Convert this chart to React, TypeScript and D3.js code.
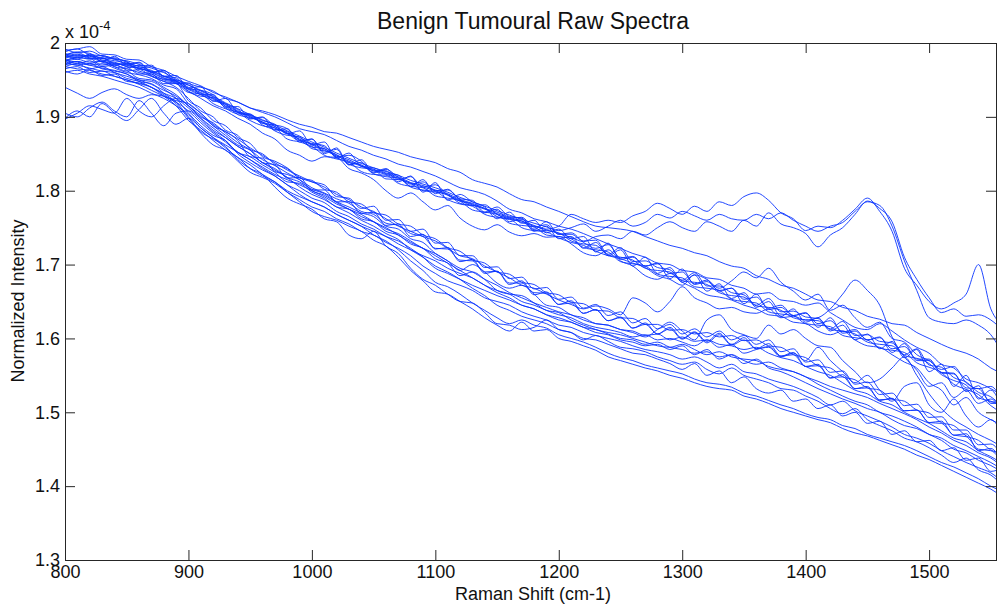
import { useEffect, useRef } from 'react'
import * as d3 from 'd3'

// Raman shift grid shared by all spectra (cm-1)
const shifts = d3.range(800, 1561, 10)

// Normalized intensity, in units of 1e-7, one row per 100 cm-1
const upper1 = [
  1988,1992,1984,1983,1979,1975,1966,1968,1955,1953,
  1938,1936,1930,1914,1906,1904,1891,1889,1884,1868,
  1864,1861,1846,1848,1840,1824,1829,1818,1809,1812,
  1800,1801,1788,1780,1781,1768,1763,1764,1751,1754,
  1741,1743,1730,1722,1727,1709,1711,1698,1701,1688,
  1690,1674,1679,1664,1668,1653,1656,1641,1645,1631,
  1634,1620,1624,1609,1612,1598,1601,1586,1589,1572,
  1572,1553,1552,1533,1532,1514,1514]
const upper2 = [
  1980,1984,1982,1977,1974,1968,1966,1960,1952,1947,
  1937,1930,1922,1917,1903,1899,1893,1881,1875,1873,
  1857,1854,1849,1836,1831,1829,1816,1815,1810,1800,
  1798,1795,1783,1780,1776,1765,1761,1759,1747,1746,
  1743,1732,1728,1726,1713,1710,1706,1695,1692,1690,
  1678,1676,1673,1662,1658,1656,1644,1642,1638,1628,
  1625,1624,1612,1610,1606,1595,1592,1590,1577,1573,
  1566,1551,1543,1537,1520,1515,1508]
const upper3 = [
  1992,1987,1989,1982,1978,1972,1973,1960,1963,1948,
  1943,1935,1927,1918,1910,1898,1899,1887,1878,1868,
  1870,1850,1858,1835,1838,1827,1827,1812,1820,1798,
  1811,1787,1795,1785,1778,1762,1771,1756,1760,1743,
  1748,1735,1738,1717,1729,1707,1710,1698,1702,1681,
  1694,1673,1677,1665,1668,1647,1660,1639,1642,1631,
  1635,1615,1628,1607,1610,1598,1602,1581,1593,1570,
  1570,1554,1553,1528,1536,1512,1512]
const upper4 = [
  1975,1981,1978,1980,1970,1972,1962,1958,1950,1946,
  1933,1931,1918,1911,1906,1895,1888,1885,1870,1866,
  1860,1848,1843,1839,1826,1822,1821,1810,1806,1804,
  1793,1790,1786,1774,1771,1768,1756,1753,1751,1740,
  1738,1735,1723,1720,1717,1704,1701,1698,1687,1684,
  1682,1670,1668,1665,1653,1650,1648,1636,1633,1631,
  1620,1618,1616,1604,1601,1598,1587,1584,1581,1567,
  1561,1554,1538,1531,1524,1509,1498]
const upper5 = [
  1985,1978,1985,1975,1982,1970,1974,1961,1961,1945,
  1946,1930,1930,1913,1914,1897,1900,1882,1884,1866,
  1870,1852,1856,1835,1842,1825,1830,1815,1819,1805,
  1808,1794,1786,1782,1770,1775,1758,1762,1745,1752,
  1735,1738,1722,1730,1712,1720,1698,1710,1688,1696,
  1676,1686,1664,1674,1654,1662,1642,1650,1630,1640,
  1622,1628,1610,1618,1598,1606,1586,1596,1574,1585,
  1555,1565,1535,1550,1518,1530,1500]
const upper6 = [
  1970,1975,1972,1976,1968,1965,1960,1955,1948,1945,
  1935,1925,1915,1908,1898,1890,1878,1870,1855,1848,
  1840,1846,1845,1830,1824,1815,1800,1790,1797,1785,
  1774,1780,1763,1752,1747,1754,1744,1739,1742,1737,
  1738,1728,1716,1712,1720,1705,1698,1685,1680,1688,
  1676,1668,1659,1656,1652,1645,1640,1632,1630,1622,
  1620,1610,1605,1610,1598,1590,1588,1578,1568,1560,
  1540,1530,1510,1520,1500,1490,1482]
const upper7 = [
  1983,1988,1986,1979,1980,1974,1969,1970,1955,1956,
  1939,1941,1921,1925,1906,1902,1895,1890,1877,1881,
  1862,1866,1844,1851,1833,1831,1824,1821,1806,1815,
  1796,1802,1789,1787,1771,1778,1765,1763,1748,1758,
  1741,1741,1732,1733,1714,1723,1704,1705,1696,1693,
  1679,1689,1671,1671,1662,1659,1645,1654,1636,1637,
  1629,1627,1613,1623,1604,1605,1596,1594,1578,1586,
  1564,1561,1547,1541,1527,1521,1506]
const upper8 = [
  1990,1992,1995,1985,1984,1978,1977,1968,1963,1955,
  1948,1942,1933,1927,1920,1912,1906,1900,1892,1884,
  1880,1876,1868,1860,1855,1848,1843,1836,1832,1826,
  1820,1812,1804,1800,1795,1786,1775,1770,1762,1758,
  1752,1748,1742,1735,1728,1722,1715,1710,1702,1700,
  1692,1690,1682,1680,1672,1668,1660,1662,1652,1650,
  1645,1648,1635,1625,1615,1612,1620,1610,1598,1588,
  1580,1565,1560,1545,1540,1532,1522]
const upper9 = [
  1977,1980,1983,1974,1971,1966,1970,1956,1951,1949,
  1934,1928,1926,1912,1904,1903,1889,1883,1880,1869,
  1859,1857,1845,1838,1835,1823,1819,1817,1805,1801,
  1799,1788,1782,1779,1768,1764,1762,1750,1746,1744,
  1736,1730,1726,1718,1712,1708,1702,1696,1685,1680,
  1672,1686,1680,1668,1678,1690,1682,1695,1676,1664,
  1652,1660,1638,1645,1628,1615,1622,1600,1595,1578,
  1570,1558,1562,1540,1532,1535,1512]
const ridge = [
  1982,1985,1979,1980,1972,1970,1965,1962,1955,1950,
  1945,1940,1935,1925,1920,1912,1908,1903,1896,1890,
  1886,1880,1878,1872,1866,1860,1856,1852,1846,1842,
  1838,1830,1825,1815,1810,1805,1796,1788,1785,1778,
  1772,1765,1758,1752,1750,1748,1745,1738,1732,1726,
  1722,1716,1712,1704,1698,1695,1685,1680,1672,1668,
  1660,1652,1650,1642,1638,1630,1626,1620,1618,1608,
  1600,1592,1585,1580,1572,1560,1552]
const topA = [
  1986,1982,1983,1979,1976,1973,1968,1963,1955,1949,
  1940,1933,1925,1917,1908,1901,1893,1887,1878,1872,
  1863,1857,1848,1842,1834,1829,1823,1819,1811,1807,
  1801,1796,1788,1783,1776,1771,1764,1759,1753,1748,
  1752,1768,1762,1757,1760,1757,1766,1772,1783,1776,
  1768,1779,1772,1785,1780,1792,1797,1787,1770,1762,
  1746,1752,1750,1760,1775,1790,1772,1745,1695,1672,
  1650,1640,1648,1660,1700,1640,1618]
const topB = [
  1984,1987,1981,1983,1978,1976,1971,1966,1960,1951,
  1943,1936,1928,1919,1911,1903,1896,1889,1881,1874,
  1866,1859,1851,1844,1837,1831,1826,1821,1814,1809,
  1804,1798,1791,1785,1779,1773,1767,1761,1756,1751,
  1746,1750,1755,1745,1752,1760,1752,1757,1768,1763,
  1772,1766,1760,1768,1762,1760,1768,1762,1770,1760,
  1752,1745,1752,1757,1772,1785,1780,1752,1705,1665,
  1628,1622,1620,1625,1618,1605,1578]
const topC = [
  1979,1983,1980,1975,1973,1971,1966,1961,1953,1948,
  1938,1932,1924,1915,1907,1900,1892,1885,1877,1870,
  1862,1855,1847,1840,1833,1827,1822,1817,1810,1805,
  1800,1794,1787,1781,1775,1769,1763,1757,1752,1747,
  1742,1737,1731,1738,1740,1735,1745,1740,1750,1758,
  1750,1745,1758,1752,1745,1760,1752,1770,1755,1750,
  1742,1724,1740,1750,1768,1786,1776,1758,1710,1680,
  1655,1635,1640,1630,1632,1625,1610]

const middle1 = [
  1975,1978,1974,1975,1968,1962,1964,1955,1948,1940,
  1925,1908,1900,1882,1875,1856,1850,1836,1830,1817,
  1814,1802,1798,1785,1782,1770,1767,1755,1752,1740,
  1735,1723,1718,1706,1702,1690,1687,1676,1673,1662,
  1659,1649,1647,1638,1637,1628,1627,1619,1619,1611,
  1612,1606,1608,1602,1604,1597,1598,1590,1588,1578,
  1574,1563,1560,1548,1544,1533,1530,1518,1515,1503,
  1499,1486,1482,1468,1462,1449,1444]
const middle2 = [
  1982,1980,1979,1970,1972,1968,1958,1958,1945,1945,
  1922,1912,1895,1888,1872,1864,1846,1840,1831,1818,
  1812,1808,1792,1790,1776,1779,1760,1761,1745,1748,
  1729,1730,1712,1712,1696,1697,1681,1683,1667,1669,
  1653,1656,1641,1646,1631,1636,1621,1627,1613,1619,
  1606,1613,1602,1610,1598,1604,1592,1598,1582,1586,
  1568,1571,1554,1556,1538,1541,1524,1526,1509,1511,
  1493,1494,1476,1476,1456,1457,1438]
const middle3 = [
  1972,1975,1970,1972,1966,1960,1957,1952,1943,1938,
  1918,1905,1888,1880,1868,1846,1844,1826,1822,1815,
  1804,1797,1789,1783,1772,1768,1756,1753,1742,1738,
  1722,1721,1706,1705,1690,1691,1675,1675,1662,1661,
  1646,1648,1634,1639,1624,1628,1614,1621,1606,1613,
  1599,1608,1594,1605,1591,1598,1586,1589,1576,1578,
  1562,1563,1547,1548,1532,1533,1517,1518,1502,1503,
  1486,1485,1469,1467,1450,1448,1430]
const middle4 = [
  1978,1972,1976,1968,1970,1963,1952,1950,1940,1930,
  1915,1900,1892,1878,1865,1855,1838,1835,1817,1818,
  1801,1801,1785,1785,1769,1771,1753,1755,1738,1741,
  1721,1723,1704,1707,1688,1691,1673,1678,1659,1663,
  1646,1651,1634,1639,1624,1629,1614,1619,1606,1615,
  1600,1609,1596,1607,1592,1601,1586,1593,1576,1581,
  1562,1565,1546,1551,1532,1535,1516,1519,1502,1503,
  1486,1488,1469,1471,1448,1451,1428]
const middle5 = [
  1897,1905,1915,1910,1905,1925,1908,1900,1915,1925,
  1915,1898,1882,1872,1860,1850,1838,1830,1818,1812,
  1802,1796,1785,1778,1770,1765,1752,1748,1735,1730,
  1715,1705,1692,1700,1690,1675,1668,1672,1660,1645,
  1642,1632,1628,1620,1618,1612,1610,1604,1606,1598,
  1602,1596,1598,1592,1590,1585,1588,1580,1574,1570,
  1562,1555,1550,1540,1530,1525,1515,1510,1500,1492,
  1485,1475,1465,1460,1448,1440,1430]
const middle6 = [
  1905,1900,1912,1920,1908,1900,1922,1905,1888,1905,
  1908,1895,1880,1868,1852,1846,1835,1825,1812,1810,
  1798,1790,1778,1775,1762,1758,1745,1740,1728,1722,
  1708,1702,1685,1690,1680,1665,1660,1658,1648,1638,
  1635,1625,1618,1612,1608,1605,1600,1595,1590,1588,
  1592,1585,1578,1582,1575,1572,1570,1562,1558,1555,
  1548,1538,1530,1522,1515,1510,1500,1495,1488,1480,
  1470,1462,1450,1445,1435,1428,1418]

const lowerBand1 = [
  1968,1972,1965,1968,1960,1955,1950,1948,1938,1925,
  1905,1888,1875,1868,1850,1838,1828,1820,1808,1800,
  1790,1784,1772,1765,1755,1748,1738,1732,1722,1710,
  1695,1688,1680,1672,1665,1658,1652,1645,1640,1632,
  1628,1622,1615,1612,1606,1600,1598,1592,1595,1588,
  1585,1580,1582,1575,1578,1570,1565,1568,1560,1555,
  1548,1542,1535,1530,1525,1520,1512,1505,1498,1490,
  1480,1472,1462,1455,1445,1438,1425]
const lowerBand2 = [
  1965,1968,1960,1962,1955,1950,1945,1940,1930,1918,
  1898,1878,1862,1855,1840,1825,1818,1810,1798,1788,
  1778,1772,1762,1755,1745,1740,1730,1722,1712,1698,
  1688,1678,1672,1665,1655,1650,1645,1636,1630,1625,
  1618,1615,1608,1604,1600,1596,1590,1585,1582,1578,
  1572,1575,1568,1560,1565,1555,1552,1545,1540,1535,
  1528,1520,1510,1515,1502,1495,1488,1480,1470,1465,
  1458,1448,1440,1432,1425,1418,1405]
const lowerBand3 = [
  1975,1970,1972,1965,1962,1958,1948,1945,1932,1920,
  1900,1880,1870,1860,1842,1830,1822,1805,1790,1782,
  1775,1762,1758,1740,1735,1745,1725,1715,1695,1680,
  1672,1660,1650,1648,1635,1620,1618,1612,1615,1625,
  1612,1608,1598,1604,1596,1588,1586,1582,1575,1570,
  1565,1568,1558,1552,1560,1550,1545,1540,1532,1530,
  1522,1515,1505,1498,1505,1490,1482,1475,1465,1460,
  1452,1442,1432,1438,1422,1415,1400]

const bump1 = [
  1940,1932,1925,1933,1938,1930,1925,1930,1928,1922,
  1918,1905,1890,1880,1870,1858,1848,1838,1828,1820,
  1812,1805,1795,1788,1778,1772,1762,1752,1745,1738,
  1732,1722,1712,1708,1698,1690,1682,1672,1668,1660,
  1652,1646,1640,1644,1640,1632,1655,1648,1636,1650,
  1670,1655,1648,1640,1642,1636,1634,1640,1628,1630,
  1625,1628,1640,1660,1679,1665,1645,1602,1575,1557,
  1535,1540,1520,1530,1512,1518,1498]
const bump2 = [
  1898,1908,1900,1918,1905,1895,1910,1925,1905,1890,
  1898,1885,1872,1862,1852,1842,1832,1822,1815,1808,
  1800,1792,1782,1775,1765,1758,1748,1742,1732,1722,
  1715,1705,1695,1690,1680,1672,1662,1655,1648,1642,
  1636,1632,1625,1620,1618,1612,1608,1602,1612,1622,
  1610,1598,1625,1632,1612,1605,1600,1618,1606,1612,
  1600,1590,1588,1570,1555,1540,1545,1560,1575,1550,
  1525,1505,1490,1480,1470,1462,1452]
const bump3 = [
  1962,1958,1964,1956,1958,1948,1946,1940,1928,1915,
  1895,1882,1868,1855,1845,1830,1820,1812,1800,1792,
  1785,1778,1768,1760,1752,1745,1738,1728,1720,1712,
  1705,1695,1688,1682,1672,1665,1660,1650,1645,1638,
  1632,1628,1620,1615,1612,1608,1602,1605,1598,1600,
  1595,1590,1598,1588,1592,1580,1585,1588,1575,1580,
  1570,1588,1570,1555,1540,1550,1530,1515,1535,1540,
  1510,1500,1518,1495,1480,1490,1468]

const lower1 = [
  1960,1963,1958,1955,1950,1945,1940,1932,1925,1915,
  1903,1885,1872,1858,1845,1835,1822,1812,1798,1785,
  1772,1765,1760,1752,1745,1733,1725,1710,1692,1678,
  1663,1660,1650,1640,1628,1618,1610,1622,1610,1612,
  1600,1596,1590,1584,1575,1570,1565,1560,1556,1550,
  1546,1540,1535,1532,1530,1522,1518,1512,1505,1500,
  1495,1490,1486,1478,1472,1468,1462,1456,1450,1442,
  1436,1428,1420,1412,1404,1396,1385]
const lower2 = [
  1968,1965,1963,1958,1955,1950,1944,1936,1928,1920,
  1908,1892,1878,1866,1852,1842,1830,1820,1808,1795,
  1785,1778,1768,1760,1752,1740,1732,1720,1705,1692,
  1676,1670,1660,1648,1638,1628,1620,1625,1618,1614,
  1605,1600,1595,1588,1580,1574,1570,1564,1560,1556,
  1552,1545,1540,1538,1534,1526,1522,1516,1510,1505,
  1498,1493,1490,1482,1478,1470,1465,1460,1455,1448,
  1440,1432,1426,1418,1410,1400,1392]
const lower3 = [
  1972,1970,1966,1962,1960,1952,1948,1940,1932,1925,
  1912,1898,1885,1872,1860,1850,1838,1828,1818,1805,
  1795,1788,1778,1770,1760,1752,1742,1734,1720,1710,
  1698,1690,1680,1668,1658,1645,1638,1630,1625,1620,
  1612,1608,1600,1598,1592,1586,1580,1578,1572,1566,
  1558,1566,1550,1556,1540,1548,1532,1526,1530,1515,
  1518,1505,1510,1495,1500,1485,1488,1470,1475,1460,
  1462,1448,1452,1435,1438,1420,1425]
const lower4 = [
  1976,1974,1970,1966,1963,1958,1950,1944,1936,1928,
  1915,1902,1888,1875,1862,1855,1842,1834,1824,1815,
  1800,1794,1784,1775,1768,1758,1750,1740,1730,1722,
  1712,1702,1692,1682,1672,1662,1655,1645,1640,1632,
  1625,1622,1615,1608,1605,1598,1595,1590,1592,1585,
  1590,1578,1585,1572,1578,1566,1572,1560,1555,1548,
  1540,1532,1525,1518,1512,1505,1500,1490,1482,1478,
  1470,1465,1455,1448,1440,1432,1422]

const spectra = [
  upper1, upper2, upper3, upper4, upper5, upper6, upper7, upper8, upper9,
  ridge, topA, topB, topC,
  middle1, middle2, middle3, middle4, middle5, middle6,
  lowerBand1, lowerBand2, lowerBand3,
  bump1, bump2, bump3,
  lower1, lower2, lower3, lower4
]

const xTicks = [800, 900, 1000, 1100, 1200, 1300, 1400, 1500]
const yTicks = [1.3, 1.4, 1.5, 1.6, 1.7, 1.8, 1.9, 2]

const FONT = '"Liberation Sans", Arial, sans-serif'
const AXIS_COLOR = '#262626'

const App = () => {
  const svgRef = useRef<SVGSVGElement>(null)

  useEffect(() => {
    if (!svgRef.current) return
    const svg = d3.select(svgRef.current)
    svg.selectAll('*').remove()

    const margin = { top: 43, right: 0, bottom: 50, left: 65 }
    const width = 997
    const height = 610

    const x = d3.scaleLinear().domain([800, 1555]).range([margin.left, width - margin.right])
    const y = d3.scaleLinear().domain([1.3, 2]).range([height - margin.bottom, margin.top])

    svg.append('defs').append('clipPath').attr('id', 'plot-clip')
      .append('rect')
      .attr('x', margin.left)
      .attr('y', margin.top)
      .attr('width', width - margin.left - margin.right)
      .attr('height', height - margin.top - margin.bottom)

    const line = d3.line<number>()
      .x((_, i) => x(shifts[i]))
      .y(d => y(d / 1000))
      .curve(d3.curveMonotoneX)

    svg.append('g')
      .attr('clip-path', 'url(#plot-clip)')
      .selectAll('path')
      .data(spectra)
      .enter()
      .append('path')
      .attr('d', d => line(d))
      .attr('fill', 'none')
      .attr('stroke', '#0a34ff')
      .attr('stroke-width', 1)
      .attr('stroke-opacity', 0.9)

    const styleAxis = (g: d3.Selection<SVGGElement, unknown, null, undefined>) => {
      g.selectAll('path').attr('stroke', AXIS_COLOR)
      g.selectAll('line').attr('stroke', AXIS_COLOR)
      g.selectAll('text')
        .attr('fill', '#111')
        .attr('font-family', FONT)
        .attr('font-size', 18)
    }

    // Bottom and left axes carry the labels, ticks point inward
    svg.append('g')
      .attr('transform', `translate(0,${height - margin.bottom})`)
      .call(d3.axisBottom(x).tickValues(xTicks).tickFormat(d3.format('d')).tickSizeInner(-10).tickSizeOuter(0).tickPadding(5))
      .call(styleAxis)

    svg.append('g')
      .attr('transform', `translate(${margin.left},0)`)
      .call(d3.axisLeft(y).tickValues(yTicks).tickFormat(d => String(d)).tickSizeInner(-10).tickSizeOuter(0).tickPadding(5))
      .call(styleAxis)

    // Mirrored ticks on the top and right edges
    svg.append('g')
      .attr('transform', `translate(0,${margin.top})`)
      .call(d3.axisTop(x).tickValues(xTicks).tickFormat(() => '').tickSizeInner(-10).tickSizeOuter(0))
      .call(styleAxis)

    svg.append('g')
      .attr('transform', `translate(${width - margin.right - 1},0)`)
      .call(d3.axisRight(y).tickValues(yTicks).tickFormat(() => '').tickSizeInner(-10).tickSizeOuter(0))
      .call(styleAxis)

    svg.append('text')
      .attr('x', 533)
      .attr('y', 29)
      .attr('text-anchor', 'middle')
      .attr('font-family', FONT)
      .attr('font-size', 23)
      .attr('fill', '#111')
      .text('Benign Tumoural Raw Spectra')

    svg.append('text')
      .attr('x', 533)
      .attr('y', 600)
      .attr('text-anchor', 'middle')
      .attr('font-family', FONT)
      .attr('font-size', 18)
      .attr('fill', '#111')
      .text('Raman Shift (cm-1)')

    svg.append('text')
      .attr('transform', 'translate(24,301) rotate(-90)')
      .attr('text-anchor', 'middle')
      .attr('font-family', FONT)
      .attr('font-size', 18)
      .attr('fill', '#111')
      .text('Normalized Intensity')

    const exponent = svg.append('text')
      .attr('x', 65)
      .attr('y', 38)
      .attr('font-family', FONT)
      .attr('font-size', 18)
      .attr('fill', '#111')
    exponent.append('tspan').text('x 10')
    exponent.append('tspan').attr('dy', -8).attr('font-size', 13).text('-4')
  }, [])

  return (
    <svg
      ref={svgRef}
      width={997}
      height={610}
      style={{ position: 'absolute', left: 0, top: 0, background: '#fff' }}
    />
  )
}

export default App
